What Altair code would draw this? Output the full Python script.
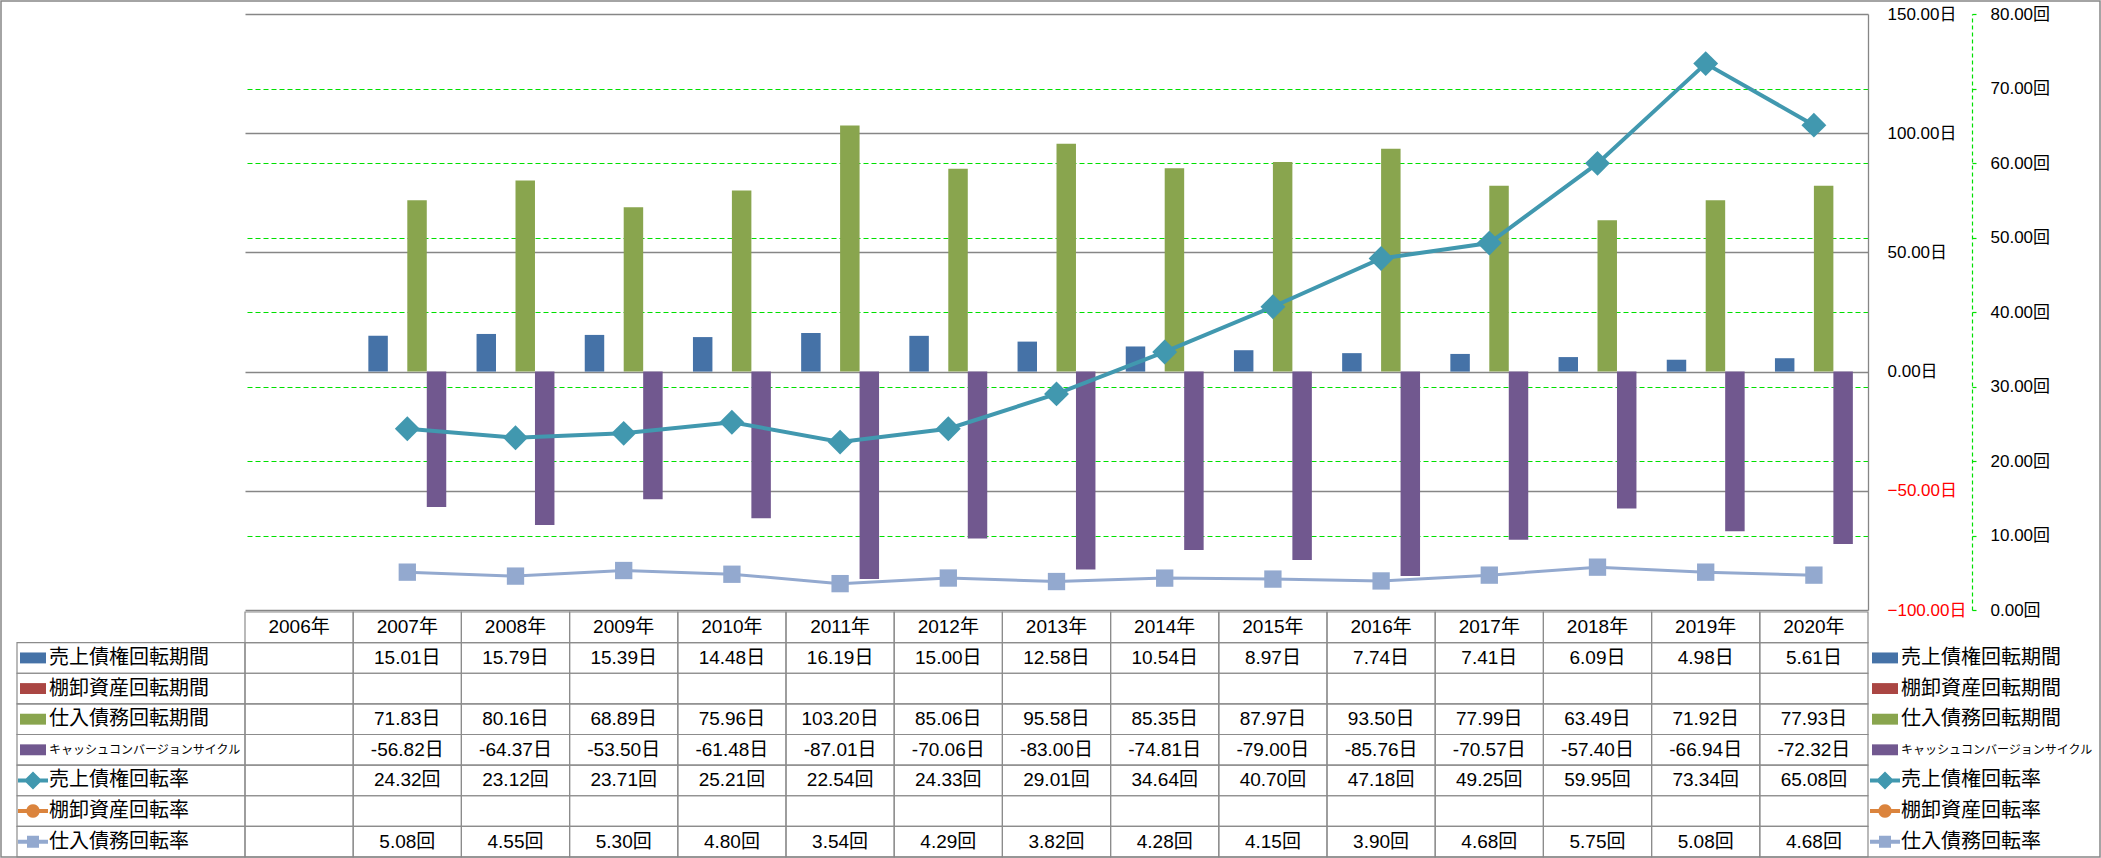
import altair as alt
import pandas as pd

# ---------------- data ----------------
years = [f"{y}年" for y in range(2006, 2021)]
data_years = years[1:]  # 2006 has no values

period_series = ["売上債権回転期間", "棚卸資産回転期間", "仕入債務回転期間", "キャッシュコンバージョンサイクル"]
rate_series = ["売上債権回転率", "棚卸資産回転率", "仕入債務回転率"]
all_series = period_series + rate_series
series_colors = ["#4572A7", "#AA4643", "#89A54E", "#71588F", "#4198AF", "#DB843D", "#93A9CF"]

receivable_days = [15.01, 15.79, 15.39, 14.48, 16.19, 15.00, 12.58, 10.54, 8.97, 7.74, 7.41, 6.09, 4.98, 5.61]
inventory_days = []
payable_days = [71.83, 80.16, 68.89, 75.96, 103.20, 85.06, 95.58, 85.35, 87.97, 93.50, 77.99, 63.49, 71.92, 77.93]
ccc_days = [-56.82, -64.37, -53.50, -61.48, -87.01, -70.06, -83.00, -74.81, -79.00, -85.76, -70.57, -57.40, -66.94, -72.32]
receivable_turns = [24.32, 23.12, 23.71, 25.21, 22.54, 24.33, 29.01, 34.64, 40.70, 47.18, 49.25, 59.95, 73.34, 65.08]
inventory_turns = []
payable_turns = [5.08, 4.55, 5.30, 4.80, 3.54, 4.29, 3.82, 4.28, 4.15, 3.90, 4.68, 5.75, 5.08, 4.68]

period_values = [receivable_days, inventory_days, payable_days, ccc_days]
rate_values = [receivable_turns, inventory_turns, payable_turns]

# legend key glyphs (bar key / line-with-marker keys)
key_bar = "M-1,-0.42L1,-0.42L1,0.42L-1,0.42Z"
key_diamond = "M-1,-0.13L-0.47,-0.13L0,-0.6L0.47,-0.13L1,-0.13L1,0.13L0.47,0.13L0,0.6L-0.47,0.13L-1,0.13Z"
key_circle = "M-1,-0.13L-0.43,-0.13A0.45,0.45 0 0 1 0.43,-0.13L1,-0.13L1,0.13L0.43,0.13A0.45,0.45 0 0 1 -0.43,0.13L-1,0.13Z"
key_square = "M-1,-0.13L-0.4,-0.13L-0.4,-0.4L0.4,-0.4L0.4,-0.13L1,-0.13L1,0.13L0.4,0.13L0.4,0.4L-0.4,0.4L-0.4,0.13L-1,0.13Z"
key_shapes = [key_bar, key_bar, key_bar, key_bar, key_diamond, key_circle, key_square]
key_sizes = [676, 676, 676, 676, 900, 900, 900]
label_sizes = [20, 20, 20, 12, 20, 20, 20]

# ---------------- tables ----------------
bar_rows = []
for name, vals in zip(period_series, period_values):
    for yr, v in zip(data_years, vals):
        bar_rows.append({"year": yr, "series": name, "value": v})
bars_df = pd.DataFrame(bar_rows, columns=["year", "series", "value"])

line_rows = []
for name, vals in zip(rate_series, rate_values):
    for yr, v in zip(data_years, vals):
        line_rows.append({"year": yr, "series": name, "value": v})
lines_df = pd.DataFrame(line_rows, columns=["year", "series", "value"])

table_rows = ["hdr"] + all_series
cell_recs = []
text_recs = []
for yr in years:
    cell_recs.append({"row": "hdr", "year": yr})
    text_recs.append({"row": "hdr", "year": yr, "text": yr})
for name, vals, unit in ([(n, v, "日") for n, v in zip(period_series, period_values)] +
                         [(n, v, "回") for n, v in zip(rate_series, rate_values)]):
    lookup = dict(zip(data_years, vals))
    for yr in years:
        cell_recs.append({"row": name, "year": yr})
        if yr in lookup:
            text_recs.append({"row": name, "year": yr, "text": f"{lookup[yr]:.2f}{unit}"})
cells_df = pd.DataFrame(cell_recs)
text_df = pd.DataFrame(text_recs)
labels_df = pd.DataFrame({"row": all_series, "series": all_series, "sym": key_shapes,
                          "symsize": key_sizes, "fs": label_sizes})

# ---------------- styles ----------------
NUM_FONT = "Liberation Sans, Noto Sans CJK JP"
CJK_FONT = "Noto Sans CJK JP"
GRAY = "#868686"
GREEN = "#00E000"

color_scale = alt.Scale(domain=all_series, range=series_colors)
x_plot = alt.X("year:N", scale=alt.Scale(domain=years, paddingInner=0.28, paddingOuter=0.14), axis=None)

turn_axis = alt.Axis(orient="right", offset=104, values=list(range(0, 81, 10)),
                     labelExpr="format(datum.value, '.2f') + '回'",
                     grid=True, gridColor=GREEN, gridDash=[5, 3], gridWidth=1.2,
                     gridOpacity={"condition": {"test": "datum.value == 0 || datum.value == 80", "value": 0}, "value": 1},
                     domain=True, domainColor=GREEN, domainDash=[4, 3], domainWidth=1.2,
                     ticks=True, tickColor=GREEN, tickSize=4, tickWidth=1.2,
                     labelPadding=14, labelFont=NUM_FONT, labelFontSize=17, labelColor="#000000",
                     title=None)
y_turn = alt.Y("value:Q", scale=alt.Scale(domain=[0, 80], nice=False), axis=turn_axis)

bars = alt.Chart(bars_df).mark_bar().encode(
    x=x_plot,
    xOffset=alt.XOffset("series:N", scale=alt.Scale(domain=period_series, paddingInner=0, paddingOuter=0)),
    y=alt.Y("value:Q", scale=alt.Scale(domain=[-100, 150], nice=False),
            axis=alt.Axis(orient="right", values=[-100, -50, 0, 50, 100, 150],
                          labelExpr="format(datum.value, '.2f') + '日'",
                          grid=True, gridColor=GRAY, gridWidth=1.3,
                          domain=True, domainColor=GRAY, domainWidth=1.3,
                          ticks=False, labelPadding=19, labelFont=NUM_FONT, labelFontSize=17,
                          labelColor={"condition": {"test": "datum.value < 0", "value": "#FF0000"}, "value": "#000000"},
                          title=None)),
    color=alt.Color("series:N", scale=color_scale, legend=None),
)

lines = alt.Chart(lines_df).mark_line().encode(
    x=x_plot,
    y=y_turn,
    color=alt.Color("series:N", scale=color_scale, legend=None),
    strokeWidth=alt.StrokeWidth("series:N", scale=alt.Scale(domain=rate_series, range=[4, 3, 3]), legend=None),
)

points = alt.Chart(lines_df).mark_point(filled=True, opacity=1).encode(
    x=x_plot,
    y=y_turn,
    color=alt.Color("series:N", scale=color_scale, legend=None),
    shape=alt.Shape("series:N", scale=alt.Scale(domain=rate_series, range=["diamond", "circle", "square"]), legend=None),
    size=alt.Size("series:N", scale=alt.Scale(domain=rate_series, range=[620, 300, 330]), legend=None),
)

plot = alt.layer(bars, alt.layer(lines, points)).resolve_scale(y="independent")

# ---------------- data table ----------------
x_tab = alt.X("year:N", scale=alt.Scale(type="band", domain=years, paddingInner=0, paddingOuter=0), axis=None)
y_tab = alt.Y("row:N", scale=alt.Scale(type="band", domain=table_rows, range=[598, 843],
                                       paddingInner=0, paddingOuter=0), axis=None)

cells = alt.Chart(cells_df).mark_rect(fillOpacity=0, stroke="#8C8C8C", strokeWidth=1.2).encode(x=x_tab, y=y_tab)
label_cells = alt.Chart(labels_df).mark_rect(fillOpacity=0, stroke="#8C8C8C", strokeWidth=1.2).encode(
    x=alt.value(-228), x2=alt.value(0), y=y_tab)
cell_text = alt.Chart(text_df).mark_text(font=NUM_FONT, fontSize=19, color="#000000", baseline="middle").encode(
    x=x_tab, y=y_tab, text="text:N")
left_keys = alt.Chart(labels_df).mark_point(filled=True, opacity=1).encode(
    x=alt.value(-212), y=y_tab,
    color=alt.Color("series:N", scale=color_scale, legend=None),
    shape=alt.Shape("sym:N", scale=None),
    size=alt.Size("symsize:Q", scale=None))
left_labels = alt.Chart(labels_df).mark_text(font=CJK_FONT, align="left", baseline="middle", color="#000000").encode(
    x=alt.value(-196), y=y_tab, text="series:N", size=alt.Size("fs:Q", scale=None))
right_keys = alt.Chart(labels_df).mark_point(filled=True, opacity=1).encode(
    x=alt.value(1640), y=y_tab,
    color=alt.Color("series:N", scale=color_scale, legend=None),
    shape=alt.Shape("sym:N", scale=None),
    size=alt.Size("symsize:Q", scale=None))
right_labels = alt.Chart(labels_df).mark_text(font=CJK_FONT, align="left", baseline="middle", color="#000000").encode(
    x=alt.value(1656), y=y_tab, text="series:N", size=alt.Size("fs:Q", scale=None))

table = alt.layer(cells, label_cells, cell_text, left_keys, left_labels, right_keys, right_labels)

frame = alt.Chart(pd.DataFrame({"k": [0]})).mark_rect(fillOpacity=0, stroke=GRAY, strokeWidth=1.5).encode(
    x=alt.value(-244), x2=alt.value(1855), y=alt.value(-13), y2=alt.value(843))

chart = alt.layer(plot, table, frame).resolve_scale(x="independent", y="independent").properties(
    width=1623, height=596,
    autosize=alt.AutoSizeParams(type="none"),
    padding={"left": 245, "top": 14, "right": 233, "bottom": 248},
).configure_view(stroke=None)

chart.save("out.html", embed_options={"renderer": "svg", "actions": False})
